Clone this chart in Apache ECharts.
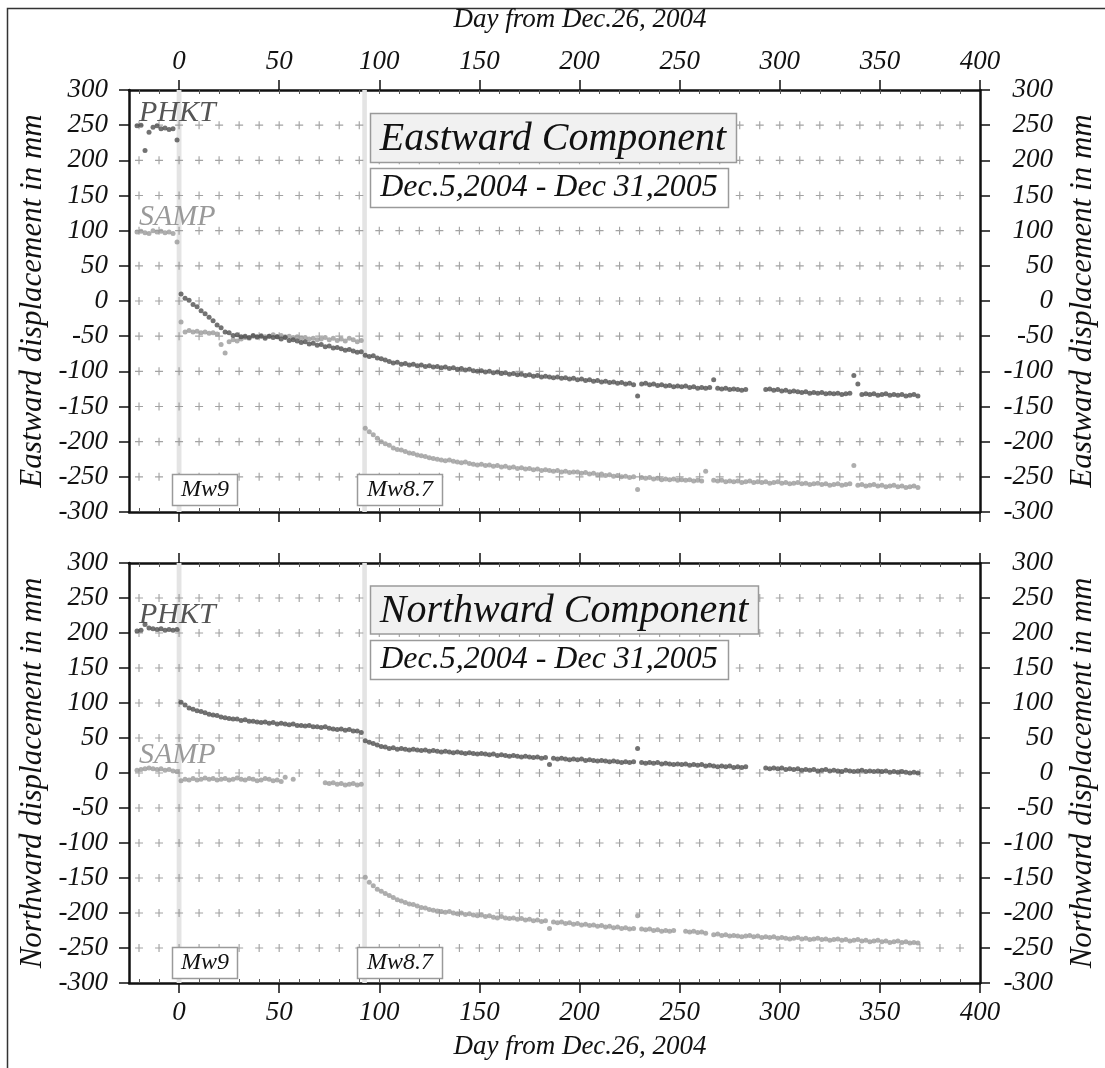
<!DOCTYPE html>
<html><head><meta charset="utf-8">
<script src="https://cdn.jsdelivr.net/npm/echarts@6/dist/echarts.min.js"></script>
<style>html,body{margin:0;padding:0;background:#fff}#c{width:1105px;height:1068px}</style>
</head><body><div id="c"></div>
<script>
// Day axis: values sampled every 2 days starting Dec.5,2004 (day -21)
const START_DAY = -21, STEP = 2;

const eastPHKT = [
 249,250,214,240,247,249,245,246,244,245,229,
 10,4,1,-5,-8,-14,-18,-23,-28,-34,-38,-44,-45,-49,-48,-51,-50,-52,-49,-51,-50,-53,-50,-52,-51,-54,-52,-56,-55,-57,-59,-58,-61,-60,-63,-62,-65,-64,-67,-66,-68,-70,-69,-71,-73,-72,
 -77,-79,-78,-81,-82,-84,-86,-88,-87,-90,-89,-91,-90,-92,-91,-93,-92,-94,-93,-95,-94,-96,-95,-97,-96,-98,-97,-99,-100,-99,-101,-100,-102,-101,-103,-102,-104,-103,-105,-104,-106,-105,-107,-106,-108,-107,
 -108,-109,-108,-110,-109,-111,-110,-112,-111,-113,-112,-114,-113,-115,-114,-116,-115,-117,-116,-118,-117,-119,-135,-118,-117,-119,-118,-120,-119,-121,-120,-122,-121,-122,-121,-123,-122,-124,-123,-124,-123,-112,-124,-125,-124,-126,
 -125,-126,-127,-126,null,null,null,null,-126,-125,-127,-126,-128,-127,-129,-128,-129,-130,-129,-131,-130,-131,-130,-132,-131,-132,-131,-133,-132,-131,-106,-118,-133,-132,-133,-132,-134,-133,-132,-134,-133,-134,-133,-135,-134,-133,-135
];
const eastSAMP = [
 98,99,97,96,100,98,99,97,98,96,84,
 -30,-44,-42,-44,-43,-45,-44,-46,-45,-47,-62,-74,-58,-55,-57,-54,-52,-53,-50,-52,-49,-51,-50,-48,-51,-49,-51,-50,-52,-51,-53,-52,-54,-53,-55,-54,-52,-55,-53,-56,-54,-57,-53,-55,-58,-56,
 -181,-186,-190,-195,-200,-203,-205,-209,-211,-212,-214,-216,-217,-219,-220,-221,-223,-224,-225,-226,-227,-226,-228,-229,-230,-229,-231,-232,-233,-232,-234,-233,-235,-234,-236,-235,-237,-236,-238,-237,-239,-238,-240,-239,-241,-240,
 -241,-242,-241,-243,-242,-244,-243,-243,-245,-244,-246,-245,-247,-246,-248,-247,-249,-248,-250,-249,-251,-250,-268,-251,-252,-251,-253,-252,-254,-253,-254,-253,-255,-254,-255,-254,-256,-255,-256,-242,null,-255,-256,-255,-257,-256,
 -257,-256,-258,-257,-256,-258,-257,-258,-257,-259,-258,-257,-259,-258,-260,-259,-258,-260,-259,-261,-260,-259,-261,-260,-262,-261,-260,-262,-261,-260,-234,-262,-261,-263,-262,-261,-263,-262,-264,-263,-262,-264,-263,-265,-264,-263,-265
];
const northPHKT = [
 203,204,212,207,206,205,206,204,205,204,205,
 101,97,93,91,89,88,86,84,83,82,80,79,78,77,77,75,76,74,74,73,72,73,71,72,70,71,70,69,70,68,68,67,68,66,66,65,66,64,63,62,63,61,62,60,60,58,
 46,44,42,40,38,37,35,36,34,35,34,33,34,33,32,33,31,32,31,30,31,30,29,30,29,28,29,28,27,28,27,26,27,25,26,25,24,25,24,23,24,23,22,23,21,22,
 12,21,20,21,20,19,20,19,20,18,19,18,17,18,17,16,17,16,15,16,15,16,35,15,14,15,14,15,13,14,13,12,13,12,13,11,12,11,12,10,11,10,9,10,9,10,
 8,9,8,9,null,null,null,null,7,6,7,6,7,5,6,5,6,4,5,4,5,3,4,5,3,4,3,2,4,3,2,3,4,2,3,2,3,2,3,1,2,1,2,1,0,1,0
];
const northSAMP = [
 4,5,6,7,6,5,6,4,5,3,2,
 -11,-9,-10,-8,-10,-9,-7,-9,-8,-10,-9,-8,-10,-9,-7,-9,-10,-8,-9,-11,-10,-8,-9,-11,-10,-12,-6,null,-9,null,null,null,null,null,null,null,-14,-15,-14,-16,-15,-17,-16,-15,-17,-16,
 -149,-156,-161,-166,-169,-172,-175,-178,-181,-183,-185,-187,-188,-190,-192,-193,-195,-196,-197,-198,-199,-198,-200,-201,-200,-202,-201,-203,-204,-203,-205,-204,-206,-207,-205,-207,-208,-207,-209,-208,-210,-209,-211,-210,-212,-211,
 -222,-213,-214,-213,-215,-214,-216,-215,-217,-216,-218,-217,-219,-218,-220,-219,-221,-220,-222,-221,-223,-222,-204,-223,-224,-223,-225,-224,-226,-225,-226,-225,null,null,-226,-227,-226,-228,-227,-229,null,-231,-230,-232,-231,-233,
 -232,-233,-234,-233,-232,-234,-233,-235,-234,-235,-234,-236,-235,-236,-237,-236,-235,-237,-236,-238,-237,-236,-238,-237,-239,-238,-237,-239,-238,-240,-239,-238,-240,-239,-241,-240,-239,-241,-240,-242,-241,-240,-242,-241,-243,-242,-243
];

// axis ticks
const xMajorTicks = [0, 50, 100, 150, 200, 250, 300, 350, 400];
const xMinorTicks = [-20,-10,0,10,20,30,40,50,60,70,80,90,100,110,120,130,140,150,160,170,180,190,200,210,220,230,240,250,260,270,280,290,300,310,320,330,340,350,360,370,380,390];
const yGridVals = [-250,-200,-150,-100,-50,0,50,100,150,200,250];
const quakeBands = [[-1.2, 1.2], [91.5, 93.8]];

const FONT = '"Liberation Serif","DejaVu Serif",serif';
const INK = '#111';
const TICK_FS = 27;

function toPairs(vals) {
  const out = [];
  vals.forEach((v, i) => { if (v !== null) out.push([START_DAY + i * STEP, v]); });
  return out;
}
const plusPts = [];
xMinorTicks.forEach(d => yGridVals.forEach(v => plusPts.push([d, v])));

const chart = echarts.init(document.getElementById('c'), null, {renderer: 'canvas'});

const grids = [
  {left: 129, right: 125, top: 90, height: 422},
  {left: 129, right: 125, top: 563, height: 420}
];

const xAxes = [];
const yAxes = [];
[0, 1].forEach(g => {
  const showBottomLabels = g === 1, showTopLabels = g === 0;
  const base = {type: 'value', gridIndex: g, min: -25, max: 400, splitLine: {show: false}};
  xAxes.push(Object.assign({}, base, {
    position: 'bottom',
    axisLine: {show: true, onZero: false, lineStyle: {color: INK, width: 2.5}},
    axisTick: {show: true, length: 10, customValues: xMajorTicks, lineStyle: {color: INK, width: 1.5}},
    axisLabel: {show: showBottomLabels, customValues: xMajorTicks, margin: 16, color: INK,
      fontFamily: FONT, fontStyle: 'italic', fontSize: TICK_FS}
  }));
  xAxes.push(Object.assign({}, base, {
    position: 'top',
    axisLine: {show: true, onZero: false, lineStyle: {color: INK, width: 2.5}},
    axisTick: {show: true, length: 10, customValues: xMajorTicks, lineStyle: {color: INK, width: 1.5}},
    axisLabel: {show: showTopLabels, customValues: xMajorTicks, margin: 15, color: INK,
      fontFamily: FONT, fontStyle: 'italic', fontSize: TICK_FS}
  }));
  ['bottom', 'top'].forEach(pos => xAxes.push(Object.assign({}, base, {
    position: pos,
    axisLine: {show: false, onZero: false},
    axisTick: {show: true, inside: true, length: 4, customValues: xMinorTicks, lineStyle: {color: '#555', width: 1}},
    axisLabel: {show: false}
  })));
  ['left', 'right'].forEach(pos => yAxes.push({
    type: 'value', gridIndex: g, position: pos, min: -300, max: 300, interval: 50,
    splitLine: {show: false},
    axisLine: {show: true, onZero: false, lineStyle: {color: INK, width: 2.5}},
    axisTick: {show: true, length: 10, lineStyle: {color: INK, width: 1.5}},
    axisLabel: pos === 'left'
      ? {margin: 21, color: INK, fontFamily: FONT, fontStyle: 'italic', fontSize: TICK_FS}
      : {margin: 73, align: 'right', color: INK, fontFamily: FONT, fontStyle: 'italic', fontSize: TICK_FS}
  }));
});

const PLUS = 'path://M3,0L4,0L4,3L7,3L7,4L4,4L4,7L3,7L3,4L0,4L0,3L3,3Z';
const series = [];
const panels = [
  {phkt: eastPHKT, samp: eastSAMP},
  {phkt: northPHKT, samp: northSAMP}
];
panels.forEach((p, g) => {
  series.push({
    type: 'scatter', xAxisIndex: g * 4, yAxisIndex: g * 2, silent: true, z: 1,
    symbol: PLUS, symbolSize: 8, itemStyle: {color: '#8c8c8c'}, data: plusPts,
    markArea: {silent: true, itemStyle: {color: '#e4e4e4'},
      data: quakeBands.map(b => [{xAxis: b[0]}, {xAxis: b[1]}])}
  });
  series.push({
    name: 'SAMP', type: 'scatter', xAxisIndex: g * 4, yAxisIndex: g * 2, z: 3,
    symbol: 'circle', symbolSize: 5, itemStyle: {color: '#9a9a9a'}, data: toPairs(p.samp)
  });
  series.push({
    name: 'PHKT', type: 'scatter', xAxisIndex: g * 4, yAxisIndex: g * 2, z: 4,
    symbol: 'circle', symbolSize: 5, itemStyle: {color: '#4f4f4f'}, data: toPairs(p.phkt)
  });
});

function txt(x, y, text, size, opts) {
  opts = opts || {};
  return {type: 'text', x: x, y: y, rotation: opts.rot || 0, z: 50, silent: true,
    style: {text: text, font: 'italic ' + size + 'px ' + FONT, fill: opts.color || INK,
      textAlign: opts.align || 'center', align: opts.align || 'center',
      textVerticalAlign: 'middle', verticalAlign: 'middle'}};
}
function box(x, y, w, h, fill) {
  return {type: 'rect', z: 40, silent: true, shape: {x: x, y: y, width: w, height: h},
    style: {fill: fill, stroke: '#9a9a9a', lineWidth: 1.5}};
}

const graphic = [
  {type: 'polyline', silent: true, shape: {points: [[7.5, 1068], [7.5, 8.5], [1105, 8.5]]},
    style: {stroke: '#333', lineWidth: 1.5, fill: null}},
  txt(580, 20, 'Day from Dec.26, 2004', 27),
  txt(580, 1047, 'Day from Dec.26, 2004', 27),
  txt(33, 301, 'Eastward displacement in mm', 31, {rot: Math.PI / 2}),
  txt(1083, 301, 'Eastward displacement in mm', 31, {rot: Math.PI / 2}),
  txt(33, 773, 'Northward displacement in mm', 31, {rot: Math.PI / 2}),
  txt(1083, 773, 'Northward displacement in mm', 31, {rot: Math.PI / 2}),
  box(370.5, 113.5, 366, 49, '#f1f1f1'), txt(553, 139, 'Eastward Component', 40),
  box(370.5, 168.5, 358, 39, '#ffffff'), txt(549, 188, 'Dec.5,2004 - Dec 31,2005', 32),
  box(370.5, 586, 388, 48, '#f1f1f1'), txt(564, 611, 'Northward Component', 40),
  box(370.5, 640.5, 358, 39, '#ffffff'), txt(549, 660, 'Dec.5,2004 - Dec 31,2005', 32),
  box(172.5, 474.5, 65, 31, '#ffffff'), txt(205, 490, 'Mw9', 24),
  box(357.5, 474.5, 85, 31, '#ffffff'), txt(400, 490, 'Mw8.7', 24),
  box(172.5, 947.5, 65, 31, '#ffffff'), txt(205, 963, 'Mw9', 24),
  box(357.5, 947.5, 85, 31, '#ffffff'), txt(400, 963, 'Mw8.7', 24),
  txt(139, 113, 'PHKT', 30, {align: 'left', color: '#555'}),
  txt(139, 217, 'SAMP', 30, {align: 'left', color: '#9a9a9a'}),
  txt(139, 615, 'PHKT', 30, {align: 'left', color: '#555'}),
  txt(139, 755, 'SAMP', 30, {align: 'left', color: '#9a9a9a'})
];

chart.setOption({
  animation: false,
  backgroundColor: '#fff',
  grid: grids,
  xAxis: xAxes,
  yAxis: yAxes,
  series: series,
  graphic: graphic
});
</script>
</body></html>
